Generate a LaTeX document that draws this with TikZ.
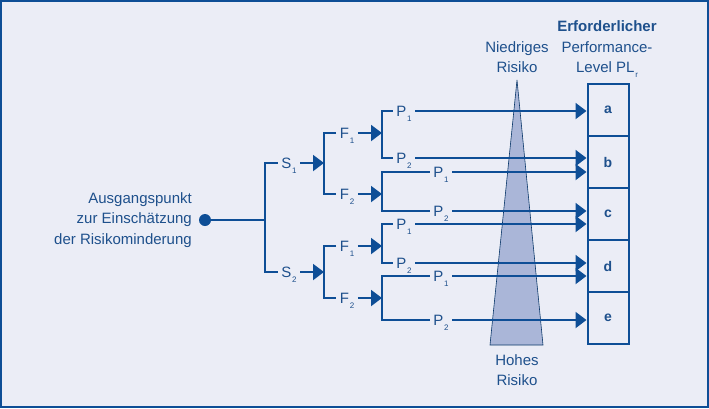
\documentclass[tikz,border=0pt]{standalone}
\usepackage{fontspec}
\setmainfont{Liberation Sans}
\usetikzlibrary{arrows.meta,positioning}
\definecolor{plblue}{RGB}{14,78,150}
\definecolor{pltext}{RGB}{30,80,140}
\definecolor{plback}{RGB}{235,237,246}
\definecolor{plwedge}{RGB}{170,182,216}
\newcommand{\lowidx}[1]{\smash{\kern.8pt\raisebox{-5pt}{\fontsize{8}{8}\selectfont#1}}}
\tikzset{
  branch/.style={plblue, line width=2pt},
  tip/.style={branch, -{Triangle[length=11pt,width=16pt]}},
  lbl/.style={text=pltext, font=\fontsize{15}{20.5}\selectfont, inner sep=0pt},
  lvl/.style={lbl, inner xsep=3.5pt},
  plbox/.style={draw=plblue, line width=2pt, outer sep=0pt, minimum width=41pt, minimum height=52pt,
    text=pltext, font=\bfseries\fontsize{14}{16}\selectfont},
}

\begin{document}
\begin{tikzpicture}[x=1pt,y=-1pt]
\useasboundingbox (0,0) rectangle (709,408);
\fill[plback] (0,0) rectangle (709,408);
\draw[plblue, line width=2pt] (1,1) rectangle (708,407);

% risk wedge
\filldraw[fill=plwedge, draw=plblue!70!black, line width=.6pt] (517,80) -- (490,345) -- (543,345) -- cycle;
\node[lbl, align=center] (low) at (517,57) {Niedriges\\Risiko};
\node[lbl, align=center] (high) at (517,370) {Hohes\\Risiko};

% required performance level
\node[lbl, align=center] (plr) at (607,47) {{\bfseries Erforderlicher}\\Performance-\\Level PL\lowidx{r}};
\node[plbox] (a) at (608,110) {a};
\foreach \l [remember=\l as \prev (initially a)] in {b,c,d,e}
  \node[plbox, below=0pt of \prev] (\l) {\l};

% starting point
\node[lbl, align=right, anchor=east] (start text) at (192,220) {Ausgangspunkt\\zur Einschätzung\\der Risikominderung};
\node[circle, fill=plblue, inner sep=0pt, minimum size=12pt] (start) at (205,220) {};

% branch points
\coordinate (j0) at (265,220);
\coordinate (j1) at (324,220);
\coordinate (j2) at (382,220);

% S, F, P labels
\node[lvl] (s1) at (289,163) {S\lowidx{1}};
\node[lvl] (s2) at (289,272) {S\lowidx{2}};
\node[lvl] (f11) at (347,133) {F\lowidx{1}};
\node[lvl] (f12) at (347,194) {F\lowidx{2}};
\node[lvl] (f21) at (347,246) {F\lowidx{1}};
\node[lvl] (f22) at (347,298) {F\lowidx{2}};
\node[lvl] (p111) at (404,111) {P\lowidx{1}};
\node[lvl] (p112) at (404,158) {P\lowidx{2}};
\node[lvl] (p121) at (441,172) {P\lowidx{1}};
\node[lvl] (p122) at (441,211) {P\lowidx{2}};
\node[lvl] (p211) at (404,224) {P\lowidx{1}};
\node[lvl] (p212) at (404,263) {P\lowidx{2}};
\node[lvl] (p221) at (441,276) {P\lowidx{1}};
\node[lvl] (p222) at (441,320) {P\lowidx{2}};

% tree
\draw[branch] (start) -- (j0);
\draw[branch] (s1.west) -| (j0) |- (s2.west);
\foreach \s in {1,2} {
  \draw[tip] (s\s.east) -- (s\s -| j1);
  \draw[branch] (f\s1.west) -| (s\s -| j1) |- (f\s2.west);
}
\foreach \s in {1,2} \foreach \f in {1,2} {
  \draw[tip] (f\s\f.east) -- (f\s\f -| j2);
  \draw[branch] (p\s\f1.west) -| (f\s\f -| j2) |- (p\s\f2.west);
}
\foreach \p/\pl in {111/a,112/b,121/b,122/c,211/c,212/d,221/d,222/e}
  \draw[tip, shorten >=1pt] (p\p.east) -- (p\p -| \pl.west);
\end{tikzpicture}
\end{document}
